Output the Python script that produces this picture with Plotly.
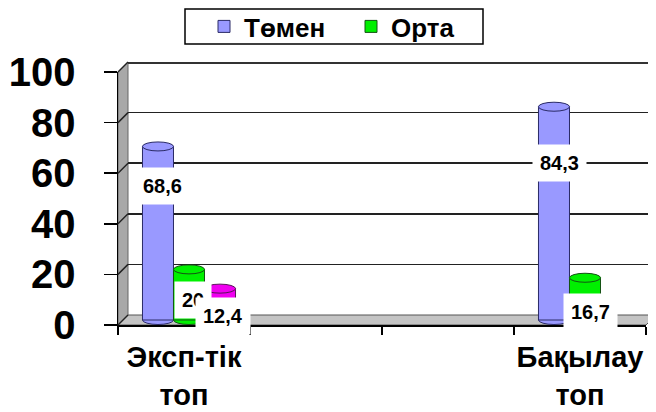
import plotly.graph_objects as go

# ---------------- data ----------------
categories = ["Эксп-тік топ", "", "", "Бақылау топ"]
series_names = ["Төмен", "Орта", "Жоғары"]
tomen = [68.6, None, None, 84.3]
orta = [20.0, None, None, 16.7]
third = [12.4, None, None, None]
label_texts = {("Төмен", 0): "68,6", ("Орта", 0): "20", ("Жоғары", 0): "12,4",
               ("Төмен", 3): "84,3", ("Орта", 3): "16,7"}
y_ticks = [0, 20, 40, 60, 80, 100]

# ---------------- styles / geometry ----------------
series_values = [tomen, orta, third]
colors = ["#9999FF", "#00F000", "#F000F0"]
edges = ["#2a2a66", "#145214", "#5a145a"]
in_legend = [True, True, False]
FONT = "Liberation Sans, Arial, sans-serif"
OFF = 8                  # page body margin of the browser
WIN_W, WIN_H = 656, 412
W, H = WIN_W - OFF, WIN_H - OFF
PLOT_L, PLOT_T, PLOT_B = 118, 60, 342   # plot area in window px
L, T, R, B = PLOT_L - OFF, PLOT_T - OFF, 0, WIN_H - PLOT_B
PW, PH = W - L - R, H - T - B
DEPTH = 10               # 3D depth in px
FRONT_X0, FRONT_X1 = 118, 646
FRONT_Y0, FRONT_Y100 = 325, 72
SCALE = (FRONT_Y0 - FRONT_Y100) / 100.0
BAR_W = 0.235
RY = 4.5 / SCALE         # ellipse half height in value units
MID_EXT = 10 / SCALE     # extra range below zero for the middle (bar) axis
LEG_BOX = (185, 9, 483, 44)   # legend frame in window px (x0, y0, x1, y1)
# label placement (value-units on the bar axis) - layout constants
label_y = {("Төмен", 0): 53, ("Орта", 0): 7.9, ("Жоғары", 0): 1.6,
           ("Төмен", 3): 62, ("Орта", 3): 3.2}
label_dx = {("Төмен", 0): 5, ("Орта", 0): 4, ("Жоғары", 0): 3,
            ("Төмен", 3): 6, ("Орта", 3): 5}


def px_x(p):
    return (p - PLOT_L) / PW


def px_y(p):
    return (PLOT_B - p) / PH


def dom_x(a, b):
    return [px_x(a), px_x(b)]


def dom_y(bottom_px, top_px):
    return [px_y(bottom_px), px_y(top_px)]


fig = go.Figure()

# back wall subplot (xy) - only gridlines
fig.add_trace(go.Scatter(x=[0], y=[0], mode="none", showlegend=False,
                         hoverinfo="skip", xaxis="x", yaxis="y"))

# bars (x2y2)
for j, (name, vals) in enumerate(zip(series_names, series_values)):
    fig.add_trace(go.Bar(
        x=list(range(len(categories))), y=vals, name=name,
        marker=dict(color=colors[j], line=dict(color=edges[j], width=1)),
        showlegend=in_legend[j], xaxis="x2", yaxis="y2", hoverinfo="skip"))

# front subplot (x3y3) - axes
fig.add_trace(go.Scatter(x=[0], y=[0], mode="none", showlegend=False,
                         hoverinfo="skip", xaxis="x3", yaxis="y3"))

shapes = []
# legend frame
shapes.append(dict(type="rect", xref="paper", yref="paper",
                   x0=px_x(LEG_BOX[0]), x1=px_x(LEG_BOX[2]),
                   y0=px_y(LEG_BOX[3]), y1=px_y(LEG_BOX[1]),
                   fillcolor="white", line=dict(color="black", width=1.5), layer="below"))
# left wall
lw = [(FRONT_X0, FRONT_Y100), (FRONT_X0 + DEPTH, FRONT_Y100 - DEPTH),
      (FRONT_X0 + DEPTH, FRONT_Y0 - DEPTH), (FRONT_X0, FRONT_Y0)]
path = "M " + " L ".join(f"{px_x(a):.5f},{px_y(b):.5f}" for a, b in lw) + " Z"
shapes.append(dict(type="path", path=path, xref="paper", yref="paper",
                   fillcolor="#a8a8a8", line=dict(color="#666666", width=1), layer="below"))
# floor
fl = [(FRONT_X0, FRONT_Y0), (FRONT_X0 + DEPTH, FRONT_Y0 - DEPTH),
      (FRONT_X1 + DEPTH, FRONT_Y0 - DEPTH), (FRONT_X1, FRONT_Y0)]
path = "M " + " L ".join(f"{px_x(a):.5f},{px_y(b):.5f}" for a, b in fl) + " Z"
shapes.append(dict(type="path", path=path, xref="paper", yref="paper",
                   fillcolor="#c4c4c4", line=dict(color="#555555", width=1), layer="below"))
# right edge of back wall
shapes.append(dict(type="line", xref="paper", yref="paper",
                   x0=px_x(WIN_W - 1), x1=px_x(WIN_W - 1),
                   y0=px_y(FRONT_Y100 - DEPTH), y1=px_y(FRONT_Y0 - DEPTH),
                   line=dict(color="#9a9a9a", width=1.5), layer="below"))
# top edge of back wall
shapes.append(dict(type="line", xref="paper", yref="paper",
                   x0=px_x(FRONT_X0 + DEPTH), x1=px_x(WIN_W),
                   y0=px_y(FRONT_Y100 - DEPTH + 1), y1=px_y(FRONT_Y100 - DEPTH + 1),
                   line=dict(color="#333333", width=2), layer="below"))
# gridline diagonals on the left wall
for v in y_ticks:
    yp = FRONT_Y0 - v * SCALE
    shapes.append(dict(type="line", xref="paper", yref="paper",
                       x0=px_x(FRONT_X0), y0=px_y(yp),
                       x1=px_x(FRONT_X0 + DEPTH), y1=px_y(yp - DEPTH),
                       line=dict(color="#222222", width=1.5), layer="above"))

# cylinder ellipses
for j, vals in enumerate(series_values):
    for i, v in enumerate(vals):
        if v is None:
            continue
        cx = i + (j - 1) * BAR_W
        shapes.append(dict(type="circle", xref="x2", yref="y2",
                           x0=cx - BAR_W / 2, x1=cx + BAR_W / 2, y0=-RY, y1=RY,
                           fillcolor=colors[j], line=dict(color=edges[j], width=1), layer="below"))
        shapes.append(dict(type="circle", xref="x2", yref="y2",
                           x0=cx - BAR_W / 2, x1=cx + BAR_W / 2, y0=v - RY, y1=v + RY,
                           fillcolor=colors[j], line=dict(color=edges[j], width=1), layer="above"))

# data labels
annotations = []
for j, (name, vals) in enumerate(zip(series_names, series_values)):
    for i, v in enumerate(vals):
        if v is None or (name, i) not in label_texts:
            continue
        cx = i + (j - 1) * BAR_W
        annotations.append(dict(
            x=cx, y=label_y[(name, i)], xref="x2", yref="y2", xshift=label_dx[(name, i)],
            text=f"<b>{label_texts[(name, i)]}</b>", showarrow=False,
            font=dict(family=FONT, size=20, color="black"),
            bgcolor="white", borderpad=7))

xr = [-0.5, len(categories) - 0.5]
hidden = dict(showticklabels=False, ticks="", showline=False, zeroline=False, fixedrange=True)

fig.update_layout(
    width=W, height=H,
    margin=dict(l=L, r=R, t=T, b=B, pad=0, autoexpand=False),
    paper_bgcolor="white", plot_bgcolor="rgba(0,0,0,0)",
    barmode="group", bargap=0.295, bargroupgap=0,
    font=dict(family=FONT, color="black"),
    shapes=shapes, annotations=annotations,
    # back wall
    xaxis=dict(domain=dom_x(FRONT_X0 + DEPTH, FRONT_X1 + DEPTH), range=xr, showgrid=False,
               anchor="y", **hidden),
    yaxis=dict(domain=dom_y(FRONT_Y0 - DEPTH, FRONT_Y100 - DEPTH), range=[0, 100],
               tickvals=y_ticks, showgrid=True, gridcolor="#222222", gridwidth=1.5,
               anchor="x", **hidden),
    # bars (middle depth)
    xaxis2=dict(domain=dom_x(FRONT_X0 + DEPTH / 2, FRONT_X1 + DEPTH / 2), range=xr,
                showgrid=False, anchor="y2", **hidden),
    yaxis2=dict(domain=dom_y(FRONT_Y0 - DEPTH / 2 + MID_EXT * SCALE, FRONT_Y100 - DEPTH / 2),
                range=[-MID_EXT, 100], showgrid=False, anchor="x2", **hidden),
    # front axes
    xaxis3=dict(domain=dom_x(FRONT_X0, FRONT_X1), range=xr, anchor="y3", fixedrange=True,
                tickmode="array", tickvals=list(range(len(categories))),
                ticktext=[c.replace(" ", "<br>") for c in categories],
                ticks="", showgrid=False, zeroline=False,
                showline=True, linecolor="black", linewidth=1.5,
                tickfont=dict(family=FONT, size=29, color="black", weight="bold"),
                ticklabelstandoff=6,
                minor=dict(tickmode="array", tickvals=[k - 0.5 for k in range(len(categories) + 1)],
                           ticks="outside", ticklen=8, tickwidth=1.5, tickcolor="black",
                           showgrid=False)),
    yaxis3=dict(domain=dom_y(FRONT_Y0, FRONT_Y100), range=[0, 100], anchor="x3",
                fixedrange=True, tickvals=y_ticks, ticks="outside", ticklen=13,
                tickwidth=1.5, tickcolor="black", showgrid=False, zeroline=False,
                showline=True, linecolor="black", linewidth=1.5,
                tickfont=dict(family=FONT, size=40, color="black", weight="bold"),
                ticklabelstandoff=20),
    legend=dict(orientation="h", x=px_x(204), xanchor="left",
                y=px_y((LEG_BOX[1] + LEG_BOX[3]) / 2), yanchor="middle",
                bgcolor="rgba(0,0,0,0)", borderwidth=0,
                entrywidth=102, entrywidthmode="pixels",
                font=dict(family=FONT, size=26, color="black", weight="bold"),
                itemclick=False, itemdoubleclick=False, tracegroupgap=0),
    showlegend=True,
)

fig.write_html("out.html", config={"displayModeBar": False, "staticPlot": True})
